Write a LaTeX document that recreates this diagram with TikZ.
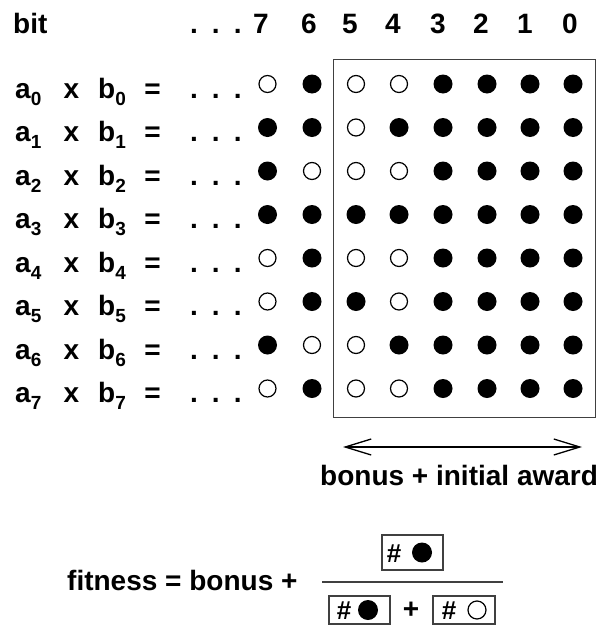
\documentclass[tikz,border=0pt]{standalone}
\usepackage{fontspec}
\setmainfont{Liberation Sans}
\usetikzlibrary{arrows.meta}
\newcommand\mysub[1]{\raisebox{-7pt}{\fontsize{19}{19}\selectfont #1}}
\newcommand\mydots{.\hspace{14pt}.\hspace{14pt}.}
\tikzset{
  lbl/.style={font=\fontsize{28}{30}\selectfont\bfseries, inner sep=0pt, anchor=base west},
  num/.style={font=\fontsize{28}{30}\selectfont\bfseries, inner sep=0pt, anchor=base},
  hashn/.style={font=\fontsize{26}{28}\selectfont\bfseries, inner sep=0pt, anchor=center},
  fulldot/.style={circle, fill=black, minimum size=19pt, inner sep=0pt},
  opendot/.style={circle, draw=black, line width=1.2pt, minimum size=17pt, inner sep=0pt},
  frame/.style={draw=black!75, line width=1.1pt, inner sep=0pt},
  barb/.style={line width=1.3pt, {Straight Barb[length=26pt,width=16pt]}-{Straight Barb[length=26pt,width=16pt]}}
}
\begin{document}
\begin{tikzpicture}[x=1pt,y=-1pt]
\useasboundingbox (0,0) rectangle (612,635);
% header
\node[lbl] (bit) at (13,33) {bit};
\node[lbl] (hdots) at (190,33) {\mydots};
\foreach \n/\x in {7/261,6/309,5/350,4/393,3/438,2/481,1/525,0/570}
  \node[num] (h\n) at (\x,33) {\n};
% row labels
\foreach \r in {0,...,7}{
  \pgfmathsetmacro\yb{98+43.5*\r}
  \node[lbl] (a\r) at (15,\yb) {a\mysub{\r}};
  \node[num] (x\r) at (71.5,\yb) {x};
  \node[lbl] (b\r) at (98,\yb) {b\mysub{\r}};
  \node[num] (eq\r) at (152.5,\yb) {=};
  \node[lbl] (dots\r) at (190,\yb) {\mydots};
}
% dots grid
\foreach \p [count=\r from 0] in {{0,1,0,0,1,1,1,1},{1,1,0,1,1,1,1,1},{1,0,0,0,1,1,1,1},{1,1,1,1,1,1,1,1},{0,1,0,0,1,1,1,1},{0,1,1,0,1,1,1,1},{1,0,0,1,1,1,1,1},{0,1,0,0,1,1,1,1}}{
  \foreach \v [count=\c from 0] in \p {
    \pgfmathsetmacro\xc{{267.5,312,356,399,443,487,530,573}[\c]}
    \pgfmathsetmacro\yc{84+43.5*\r}
    \ifnum\v=1
      \node[fulldot] (d\r-\c) at (\xc,\yc) {};
    \else
      \node[opendot] (d\r-\c) at (\xc,\yc) {};
    \fi
  }
}
% frame around bits 5..0
\node[frame, minimum width=262.3pt, minimum height=357.7pt, anchor=north west] (grid) at (332.7,59.3) {};
% arrow
\coordinate (al) at (343,447);
\coordinate (ar) at (582,447);
\draw[barb] (al) -- (ar);
\node[lbl] (award) at (320,485) {bonus + initial award};
% fitness formula
\node[lbl] (fit) at (67,590) {fitness = bonus +};
\coordinate (barl) at (322,582);
\coordinate (barr) at (503,582);
\draw[line width=1.1pt, black!75] (barl) -- (barr);
\node[frame, minimum width=61pt, minimum height=35pt] (tbox) at (412.5,552.5) {};
\node[hashn] (th) at (394,553.5) {\#};
\node[fulldot, minimum size=20pt] (td) at (422,552.5) {};
\node[frame, minimum width=61pt, minimum height=28pt] (bbox1) at (359.5,610) {};
\node[hashn] (bh1) at (344,611) {\#};
\node[fulldot, minimum size=20pt] (bd1) at (368,610) {};
\node[num] (plus) at (411,618) {+};
\node[frame, minimum width=62pt, minimum height=28pt] (bbox2) at (464,610) {};
\node[hashn] (bh2) at (449,611) {\#};
\node[opendot, minimum size=18pt] (bd2) at (477,610) {};
\end{tikzpicture}
\end{document}
